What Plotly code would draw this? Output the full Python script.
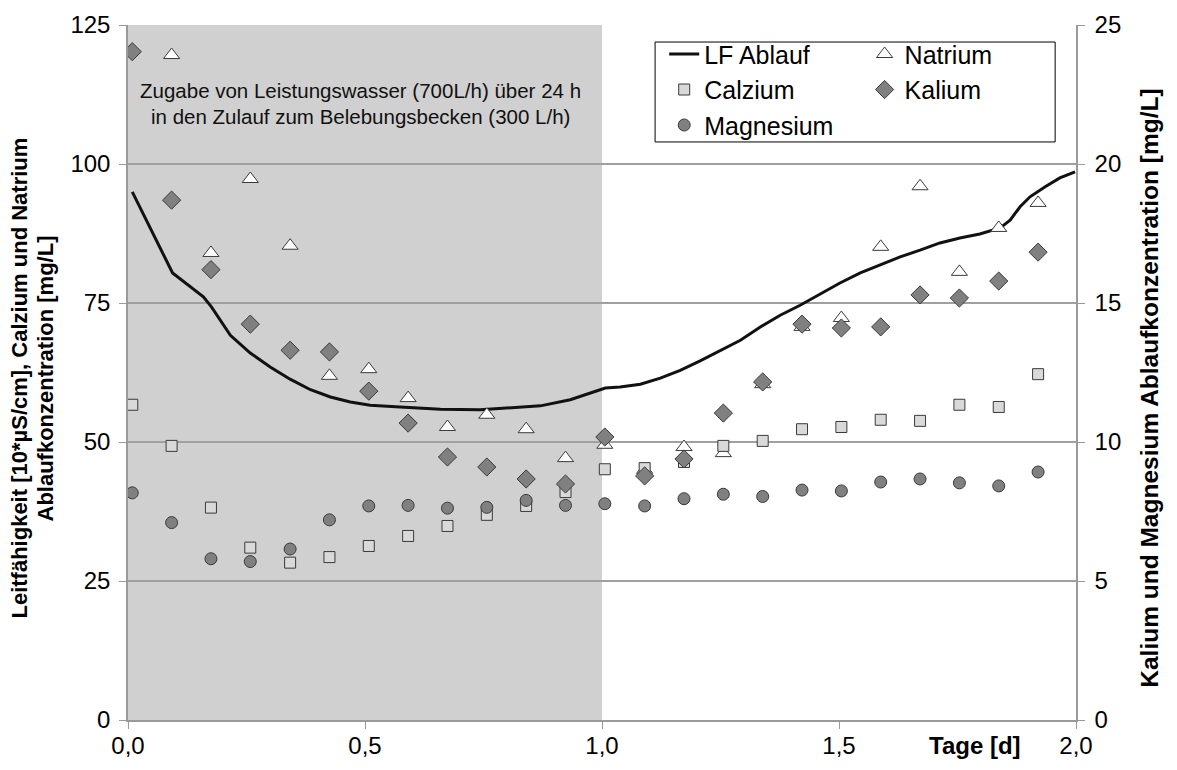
import plotly.graph_objects as go

# ---- data ----
sample_days = [0.009, 0.092, 0.175, 0.258, 0.342, 0.425, 0.508, 0.591, 0.674, 0.757,
               0.840, 0.923, 1.006, 1.090, 1.173, 1.256, 1.339, 1.422, 1.505, 1.588,
               1.671, 1.754, 1.837, 1.920]
natrium = [None, 119.6, 84.0, 97.3, 85.3, 61.9, 63.1, 57.9, 52.7, 54.9, 52.3, 47.1,
           49.5, 45.0, 49.1, 48.0, 60.4, 70.7, 72.3, 85.1, 96.0, 80.6, 88.5, 93.0]
calzium = [56.7, 49.3, 38.2, 31.0, 28.3, 29.3, 31.3, 33.1, 34.9, 36.9, 38.5, 41.0,
           45.1, 45.3, 46.4, 49.3, 50.2, 52.3, 52.7, 54.0, 53.8, 56.7, 56.3, 62.2]
kalium = [24.04, 18.7, 16.2, 14.24, 13.3, 13.24, 11.83, 10.68, 9.46, 9.1, 8.67, 8.49,
          10.18, 8.78, 9.39, 11.04, 12.16, 14.24, 14.1, 14.14, 15.29, 15.18, 15.79, 16.83]
magnesium = [8.17, 7.1, 5.8, 5.7, 6.15, 7.2, 7.7, 7.72, 7.62, 7.65, 7.9, 7.72,
             7.78, 7.7, 7.96, 8.12, 8.04, 8.27, 8.24, 8.56, 8.67, 8.53, 8.42, 8.92]

lf_days = [0.009, 0.094, 0.159, 0.176, 0.216, 0.258, 0.300, 0.342, 0.385, 0.427,
           0.469, 0.511, 0.574, 0.659, 0.743, 0.806, 0.870, 0.933, 0.975, 1.007,
           1.038, 1.081, 1.123, 1.165, 1.207, 1.249, 1.292, 1.334, 1.376, 1.418,
           1.460, 1.502, 1.545, 1.587, 1.629, 1.671, 1.713, 1.755, 1.797, 1.840,
           1.861, 1.882, 1.903, 1.935, 1.966, 1.998]
lf_ablauf = [95.0, 80.4, 76.1, 74.3, 69.2, 66.0, 63.5, 61.3, 59.4, 58.1,
             57.2, 56.6, 56.3, 55.9, 55.8, 56.1, 56.5, 57.6, 58.8, 59.7,
             59.9, 60.4, 61.5, 62.9, 64.6, 66.4, 68.3, 70.7, 72.8, 74.6,
             76.6, 78.6, 80.4, 81.8, 83.3, 84.5, 85.8, 86.7, 87.4, 88.5,
             89.9, 92.3, 94.1, 95.9, 97.5, 98.6]

x_ticks = [0, 0.5, 1.0, 1.5, 2.0]
y1_ticks = [0, 25, 50, 75, 100, 125]
y2_ticks = [0, 5, 10, 15, 20, 25]

note_lines = ["Zugabe von Leistungswasser (700L/h) über 24 h",
              "in den Zulauf zum Belebungsbecken (300 L/h)"]
left_title_lines = ["Leitfähigkeit [10*µS/cm], Calzium und Natrium",
                    "Ablaufkonzentration [mg/L]"]
right_title = "Kalium und Magnesium Ablaufkonzentration [mg/L]"

FONT = "Liberation Sans, Arial, sans-serif"
EDGE = "#3a3a3a"
AXC = "#9a9a9a"
TICK = 24

fig = go.Figure()
fig.add_trace(go.Scatter(x=lf_days, y=lf_ablauf, mode="lines", name="LF Ablauf",
                         line=dict(color="#111111", width=3), legend="legend",
                         legendgroup="a"))
fig.add_trace(go.Scatter(x=sample_days, y=natrium, mode="markers", name="Natrium",
                         marker=dict(symbol="triangle-up", size=14, color="white",
                                     line=dict(color=EDGE, width=1)),
                         legend="legend2", legendgroup="b"))
fig.add_trace(go.Scatter(x=sample_days, y=calzium, mode="markers", name="Calzium",
                         marker=dict(symbol="square", size=11, color="#d9d9d9",
                                     line=dict(color=EDGE, width=1)),
                         legend="legend", legendgroup="c"))
fig.add_trace(go.Scatter(x=sample_days, y=kalium, mode="markers", name="Kalium",
                         yaxis="y2",
                         marker=dict(symbol="diamond", size=14, color="#808080",
                                     line=dict(color=EDGE, width=1)),
                         legend="legend2", legendgroup="d"))
fig.add_trace(go.Scatter(x=sample_days, y=magnesium, mode="markers", name="Magnesium",
                         yaxis="y2",
                         marker=dict(symbol="circle", size=12, color="#808080",
                                     line=dict(color=EDGE, width=1)),
                         legend="legend", legendgroup="e"))

fig.add_shape(type="rect", xref="x", yref="paper", x0=0, x1=1, y0=0, y1=1,
              fillcolor="#d0d0d0", line=dict(width=0), layer="below")
fig.add_shape(type="rect", xref="paper", yref="paper", x0=0.556, x1=0.978,
              y0=0.8317, y1=0.9755, fillcolor="white",
              line=dict(color="black", width=1), layer="above")

# note in the shaded area (two lines)
for txt, yv in zip(note_lines, [113.2, 108.6]):
    fig.add_annotation(x=0.49, y=yv, xref="x", yref="y", showarrow=False,
                       xanchor="center", yanchor="middle", text=txt,
                       font=dict(family=FONT, size=20.5, color="#111111"))

# left axis title (two lines)
for txt, xp in zip(left_title_lines, [-0.1145, -0.0871]):
    fig.add_annotation(x=xp, y=0.492, xref="paper", yref="paper", showarrow=False,
                       textangle=-90, xanchor="center", yanchor="middle",
                       text="<b>" + txt + "</b>",
                       font=dict(family=FONT, size=22, color="black"))
fig.add_annotation(x=1.078, y=0.478, xref="paper", yref="paper", showarrow=False,
                   textangle=-90, xanchor="center", yanchor="middle",
                   text="<b>" + right_title + "</b>",
                   font=dict(family=FONT, size=24.5, color="black"))
fig.add_annotation(x=0.8935, y=-0.036, xref="paper", yref="paper", showarrow=False,
                   text="<b>Tage [d]</b>", xanchor="center", yanchor="middle",
                   font=dict(family=FONT, size=24, color="black"))

fig.update_layout(
    width=1177, height=770, autosize=False,
    margin=dict(l=128, r=101, t=25, b=50),
    plot_bgcolor="white", paper_bgcolor="white",
    separators=",.",
    font=dict(family=FONT, size=TICK, color="black"),
    showlegend=True,
    xaxis=dict(range=[0, 2], tickvals=x_ticks, tickformat=".1f", showgrid=False,
               showline=True, linecolor=AXC, linewidth=1.5, ticks="outside",
               ticklen=7, tickcolor=AXC, zeroline=False, automargin=False,
               ticklabelstandoff=-4,
               tickfont=dict(family=FONT, size=TICK)),
    yaxis=dict(range=[0, 125], tickvals=y1_ticks, showgrid=True, gridcolor="#a0a0a0",
               gridwidth=1.5, showline=True, linecolor=AXC, linewidth=1.5,
               ticks="outside", ticklen=7, tickcolor=AXC, zeroline=False,
               automargin=False, ticklabelstandoff=4,
               tickfont=dict(family=FONT, size=TICK)),
    yaxis2=dict(range=[0, 25], tickvals=y2_ticks, overlaying="y", side="right",
                showgrid=False, showline=True, linecolor=AXC, linewidth=1.5,
                ticks="outside", ticklen=7, tickcolor=AXC, zeroline=False,
                automargin=False, ticklabelstandoff=5,
                tickfont=dict(family=FONT, size=TICK)),
    legend=dict(x=0.5656, y=0.991, xanchor="left", yanchor="top",
                bgcolor="rgba(0,0,0,0)", borderwidth=0,
                font=dict(family=FONT, size=25), tracegroupgap=0,
                traceorder="normal"),
    legend2=dict(x=0.777, y=0.991, xanchor="left", yanchor="top",
                 bgcolor="rgba(0,0,0,0)", borderwidth=0,
                 font=dict(family=FONT, size=25), tracegroupgap=0,
                 traceorder="normal"),
)

fig.write_html("out.html")
